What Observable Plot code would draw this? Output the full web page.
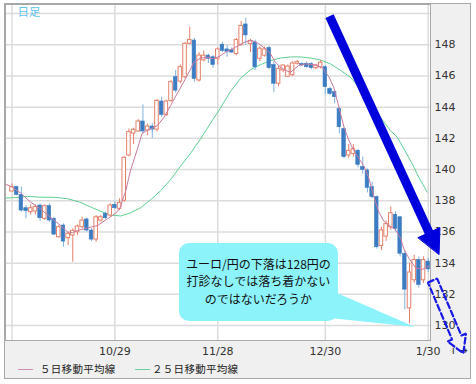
<!DOCTYPE html>
<html lang="ja">
<head>
<meta charset="utf-8">
<script src="https://cdn.jsdelivr.net/npm/d3@7"></script>
<script src="https://cdn.jsdelivr.net/npm/@observablehq/plot@0.6"></script>
<style>
  html, body { margin: 0; padding: 0; background: #ffffff; }
  #frame { position: absolute; left: 4px; top: 3px; width: 465px; height: 374px; border: 1px solid #a8a8a8; background: #f0f0f0; }
  #chart { position: absolute; left: 0; top: 0; }
  .key { position: absolute; top: 358px; height: 14px; line-height: 14px; font-family: "Noto Sans CJK JP"; font-size: 10.5px; letter-spacing: 0.3px; color: #222; white-space: nowrap; }
  .swatch { position: absolute; top: 365px; height: 1px; width: 15px; }
</style>
</head>
<body>
<div id="frame">
  <div id="chart"></div>
  <div class="swatch" style="left:13px;background:#cf8fb0"></div>
  <div class="key" style="left:35px">５日移動平均線</div>
  <div class="swatch" style="left:130px;background:#6ccf9c"></div>
  <div class="key" style="left:147px">２５日移動平均線</div>
</div>
<script>
// ---- data (daily candles, index 1..90) ----
const firstIndex = 1;
const opens = [138.59,138.87,138.38,137.52,137.27,137.31,137.69,136.84,137.65,136.84,
135.66,136.41,135.60,135.77,135.98,136.30,136.80,136.09,135.51,136.73,
137.16,137.05,137.74,137.48,138.0,140.9,142.3,142.44,143.08,142.5,
142.76,142.56,144.36,143.5,144.4,145.92,145.64,145.92,148.06,148.27,
145.71,147.0,147.3,147.2,147.1,148.0,147.7,147.65,147.4,148.0,
149.3,148.05,148.15,147.1,147.3,147.8,146.7,145.5,146.35,145.95,
146.05,146.78,146.77,146.77,146.77,146.5,146.55,146.56,145.17,144.96,
143.89,142.6,140.9,141.0,141.2,140.15,139.94,138.87,138.23,135.1,
135.7,136.3,137.1,136.94,134.6,131.1,132.9,134.2,132.9,134.1];
const closes = [138.87,138.38,137.37,137.33,137.52,137.59,136.88,137.65,136.73,135.83,
136.30,135.38,135.88,136.07,136.35,136.73,136.09,135.51,136.94,136.94,
136.88,137.69,137.52,137.86,140.75,142.4,142.55,143.08,142.44,142.76,
142.56,144.4,143.5,144.36,145.6,145.06,146.56,148.06,148.31,145.81,
147.31,147.3,147.1,146.7,147.7,147.6,147.55,147.5,148.3,149.2,
148.6,148.25,146.55,147.75,147.7,146.5,145.5,146.45,146.67,146.6,
146.8,146.88,146.67,146.56,146.5,146.67,146.85,145.28,144.85,144.64,
142.71,140.8,141.2,141.3,140.3,139.98,138.82,138.23,135.02,136.1,
136.5,137.2,136.2,134.6,132.3,133.4,134.2,132.6,134.2,133.6];
const highs = [139.08,138.93,138.87,137.69,137.74,137.74,137.80,137.74,137.80,136.94,
136.41,136.52,135.98,136.20,136.45,136.94,136.88,136.20,137.05,137.05,
137.27,137.80,137.95,138.12,140.85,142.6,142.65,143.2,144.15,142.93,
142.93,144.5,144.64,144.45,145.7,146.35,146.7,148.15,149.12,148.4,
147.5,147.6,147.4,147.3,147.8,148.15,147.95,147.8,148.4,149.5,
149.7,148.35,148.3,147.85,147.85,147.9,146.9,146.65,146.7,146.7,
146.9,147.0,146.85,146.9,146.85,146.75,147.0,146.67,145.28,145.06,
144.0,142.7,141.6,141.6,141.3,140.8,140.04,139.19,138.3,136.3,
136.7,137.6,137.3,137.0,134.8,134.0,134.5,134.4,134.4,134.3];
const lows = [138.55,138.33,137.27,136.84,137.09,137.09,136.67,136.73,136.62,135.77,
135.60,135.02,135.13,134.06,135.77,136.20,135.98,135.38,135.34,136.62,
136.80,136.94,137.44,137.37,137.9,140.8,141.6,142.4,142.29,142.18,
142.0,142.4,143.35,143.4,144.3,144.9,145.5,145.8,148.0,145.6,
145.6,146.9,146.8,146.5,146.7,147.5,147.2,147.45,147.3,147.9,
147.95,147.5,146.35,146.9,147.2,146.4,144.95,145.3,146.2,145.9,
145.95,146.7,146.6,146.5,146.4,146.4,146.45,144.8,144.74,144.21,
142.3,140.7,140.7,140.8,140.1,139.7,138.5,138.12,134.9,134.8,
135.4,136.1,136.0,134.4,131.0,130.1,132.7,132.4,132.7,133.4];

// moving averages: [day index, price]
const ma5 = [[-0.39,139.06],[0.9,138.9],[2.8,138.5],[5.0,137.9],[7.1,137.48],[9.2,136.94],[11.4,136.41],[12.9,136.0],[13.9,135.96],[15.0,136.09],[17.1,136.25],[19.3,136.41],[21.4,136.84],[22.5,137.05],[23.5,137.3],[24.2,137.6],[24.8,138.2],[25.3,138.6],[26.3,139.9],[27.8,141.3],[28.8,142.3],[29.8,142.5],[30.6,142.6],[32.1,142.82],[33.5,143.35],[34.9,144.1],[36.3,144.85],[37.7,145.6],[39.2,146.45],[39.9,146.88],[41.3,147.14],[42.7,147.2],[44.2,147.1],[45.6,147.31],[46.7,147.52],[48.8,147.84],[51.0,148.2],[52.4,148.27],[53.8,148.06],[55.2,147.74],[56.3,147.41],[57.3,146.88],[58.4,146.56],[59.5,146.35],[60.6,146.24],[62.3,146.67],[63.8,146.77],[65.9,146.71],[67.3,146.56],[68.8,145.92],[69.8,145.28],[70.9,144.0],[72.0,142.71],[73.0,141.9],[74.1,141.2],[75.2,140.7],[76.2,140.26],[77.3,139.45],[78.4,138.23],[79.4,137.3],[80.5,136.7],[81.9,136.35],[83.0,136.15],[84.1,135.6],[84.8,134.9],[85.9,134.3],[87.3,133.7],[88.7,133.6],[90.1,133.8]];
const ma25 = [[-0.39,138.18],[1.7,138.2],[4.3,138.28],[7.1,138.23],[9.9,138.22],[12.9,138.13],[15.6,137.9],[17.8,137.6],[19.9,137.33],[22.0,137.1],[24.2,137.02],[26.3,137.22],[28.5,137.55],[30.6,138.05],[32.8,138.65],[34.9,139.35],[37.0,140.2],[39.2,141.05],[41.3,141.95],[43.4,142.95],[45.6,143.95],[47.7,145.0],[49.9,145.85],[52.0,146.4],[54.1,146.72],[56.3,146.98],[58.4,147.15],[60.6,147.22],[62.7,147.22],[64.8,147.15],[67.0,147.02],[69.1,146.77],[71.3,146.35],[73.4,145.9],[75.5,145.17],[77.7,144.2],[79.8,143.35],[81.9,142.5],[83.4,142.07],[84.8,141.32],[86.6,140.36],[88.0,139.5],[89.8,138.55]];

// axes
const priceTicks = [130,132,134,136,138,140,142,144,146,148];
const gridPrices = [130,132,134,136,138,140,142,144,146,148,150];
const gridDays = [1,23,45,68,90];
const dateDays = [23,45,68,90];
const dateLabels = ["10/29","11/28","12/30","1/30"];

// annotations (in day index / price units)
const trendShaft = [[68.9,149.84],[90.18,135.96]];
const trendHead = [[87.85,135.64],[92.51,136.28],[92.32,134.57]];
const hollowArrow = [[89.94,132.76],[91.91,133.01],[97.09,129.36],[98.07,129.48],[97.51,128.22],[94.13,128.98],[95.12,129.10]];
const calloutBox = [[36.8,70.8,130.26,135.26]];
const calloutTail = [[69.1,132.24,130.45],[87.3,129.87,129.87]];
const calloutLines = ["ユーロ/円の下落は128円の","打診なしでは落ち着かない","のではないだろうか"];
const calloutX = 53.7;
const calloutY = [133.85,132.76,131.6];

// ---- build ----
const candles = opens.map((o, k) => ({i: k + firstIndex, o, c: closes[k], h: highs[k], l: lows[k]}));
const up = candles.filter(d => d.c >= d.o);
const down = candles.filter(d => d.c < d.o);
const dateMap = new Map(dateDays.map((d, k) => [d, dateLabels[k]]));

const upColor = "#e4806a", downColor = "#3b7cc3", downWick = "#7fb1e0";
const cyan = "#8cf3fb", blue = "#0000dc";
const half = 0.38;

const chart = Plot.plot({
  width: 465, height: 352,
  marginLeft: 0, marginRight: 40, marginTop: 0, marginBottom: 16,
  x: {type: "linear", domain: [-0.39, 90.49]},
  y: {type: "linear", domain: [129.04, 150.58]},
  style: {background: "none", overflow: "visible", fontFamily: "DejaVu Sans", fontSize: "11px", color: "#333"},
  marks: [
    Plot.frame({fill: "white", stroke: "none"}),
    Plot.gridY(gridPrices, {stroke: "#dcdcdc", strokeOpacity: 1, strokeWidth: 1.5}),
    Plot.gridX(gridDays, {stroke: "#dcdcdc", strokeOpacity: 1, strokeWidth: 1.5}),
    Plot.frame({stroke: "#a8a8a8", fill: "none"}),
    Plot.axisY(priceTicks, {anchor: "right", tickSize: 0, tickPadding: 4, fontSize: 11}),
    Plot.axisX(dateDays, {anchor: "bottom", tickSize: 0, tickPadding: 7, fontSize: 11, tickFormat: d => dateMap.get(d)}),
    Plot.text(["日足"], {frameAnchor: "top-left", dx: 12, dy: 3, lineAnchor: "top", textAnchor: "start", fill: "#5cc3ef", fontSize: 11.5, fontFamily: "Noto Sans CJK JP"}),
    Plot.line(ma25, {x: d => d[0], y: d => d[1], stroke: "#5fcf94", strokeWidth: 1}),
    Plot.ruleX(up, {x: "i", y1: "l", y2: "h", stroke: upColor, strokeWidth: 1}),
    Plot.ruleX(down, {x: "i", y1: "l", y2: "h", stroke: downWick, strokeWidth: 1}),
    Plot.rect(up, {x1: d => d.i - half, x2: d => d.i + half, y1: "o", y2: "c", fill: "white", stroke: upColor, strokeWidth: 1}),
    Plot.rect(down, {x1: d => d.i - half, x2: d => d.i + half, y1: "o", y2: "c", fill: downColor, stroke: downColor, strokeWidth: 0.6}),
    Plot.line(ma5, {x: d => d[0], y: d => d[1], stroke: "#c97aa0", strokeWidth: 1}),
    Plot.line(trendShaft, {x: d => d[0], y: d => d[1], stroke: blue, strokeWidth: 9, strokeLinecap: "butt"}),
    Plot.line(trendHead, {x: d => d[0], y: d => d[1], curve: "linear-closed", fill: blue, stroke: blue, strokeWidth: 1}),
    Plot.areaY(calloutTail, {x: d => d[0], y1: d => d[1], y2: d => d[2], fill: cyan}),
    Plot.rect(calloutBox, {x1: d => d[0], x2: d => d[1], y1: d => d[2], y2: d => d[3], fill: cyan, rx: 10}),
    Plot.text(calloutLines, {x: calloutX, y: (d, k) => calloutY[k], text: d => d, fill: "#111", fontSize: 12, fontFamily: "Noto Sans CJK JP"}),
    Plot.line(hollowArrow, {x: d => d[0], y: d => d[1], curve: "linear-closed", fill: "none", stroke: "#1a1ae8", strokeWidth: 2.2, strokeDasharray: "6,3", strokeLinejoin: "miter"})
  ]
});
document.getElementById("chart").appendChild(chart);
</script>
</body>
</html>
